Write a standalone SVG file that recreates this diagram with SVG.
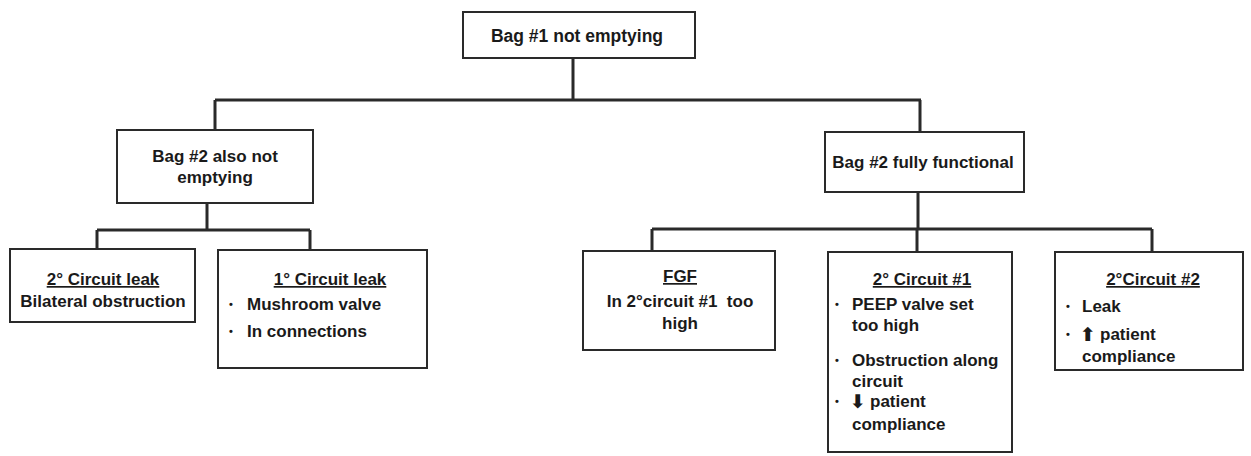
<svg xmlns="http://www.w3.org/2000/svg" width="1251" height="456" viewBox="0 0 1251 456">
<style>
.box{fill:#fff;stroke:#2a2a2a;stroke-width:2}
.con{fill:none;stroke:#2a2a2a;stroke-width:3}
text{font-family:"Liberation Sans",Arial,sans-serif;font-weight:bold;font-size:17px;fill:#1a1a1a}
.c{text-anchor:middle}
.u{text-decoration:underline}
.big{font-size:17.5px}
.b{font-size:11px}
.arr{font-family:"DejaVu Sans",sans-serif;font-size:19px}
</style>
<g id="connectors">
<path class="con" d="M573,58 V100 M215,100 H921 M215,100 V130 M920,100 V132"/>
<path class="con" d="M207,203 V230 M97,230 H310 M97,230 V249 M310,230 V250"/>
<path class="con" d="M918,192 V229 M652,229 H1152 M652,229 V251 M917,229 V252 M1152,229 V252"/>
</g>
<g id="n1">
<rect class="box" x="463" y="12" width="232" height="46"/>
<text class="c big" x="577" y="42">Bag #1 not emptying</text>
</g>
<g id="n2">
<rect class="box" x="117" y="130" width="196" height="73"/>
<text class="c" x="215" y="162">Bag #2 also not</text>
<text class="c" x="215" y="183">emptying</text>
</g>
<g id="n3">
<rect class="box" x="825" y="132" width="199" height="60"/>
<text class="c" x="923" y="168">Bag #2 fully functional</text>
</g>
<g id="n4">
<rect class="box" x="10" y="249" width="185" height="73"/>
<text class="c u" x="103" y="285">2° Circuit leak</text>
<text class="c" x="103" y="307">Bilateral obstruction</text>
</g>
<g id="n5">
<rect class="box" x="218" y="250" width="209" height="118"/>
<text class="c u" x="330" y="285">1° Circuit leak</text>
<text class="b" x="229" y="308">•</text><text x="247" y="310">Mushroom valve</text>
<text class="b" x="229" y="335">•</text><text x="247" y="337">In connections</text>
</g>
<g id="n6">
<rect class="box" x="583" y="251" width="192" height="99"/>
<text class="c u" x="680" y="282">FGF</text>
<text class="c" x="680" y="307" xml:space="preserve">In 2°circuit #1  too</text>
<text class="c" x="680" y="329">high</text>
</g>
<g id="n7">
<rect class="box" x="828" y="252" width="184" height="200"/>
<text class="c u" x="922" y="285">2° Circuit #1</text>
<text class="b" x="835" y="308">•</text><text x="852" y="310">PEEP valve set</text>
<text x="852" y="331">too high</text>
<text class="b" x="835" y="364">•</text><text x="852" y="366">Obstruction along</text>
<text x="852" y="387">circuit</text>
<text class="b" x="835" y="405">•</text><text class="arr" x="850" y="408">⬇</text><text x="870" y="407">patient</text>
<text x="852" y="430">compliance</text>
</g>
<g id="n8">
<rect class="box" x="1055" y="252" width="188" height="118"/>
<text class="c u" x="1153" y="285">2°Circuit #2</text>
<text class="b" x="1066" y="310">•</text><text x="1082" y="312">Leak</text>
<text class="b" x="1066" y="338">•</text><text class="arr" x="1080" y="341">⬆</text><text x="1100" y="340">patient</text>
<text x="1082" y="362">compliance</text>
</g>
</svg>
